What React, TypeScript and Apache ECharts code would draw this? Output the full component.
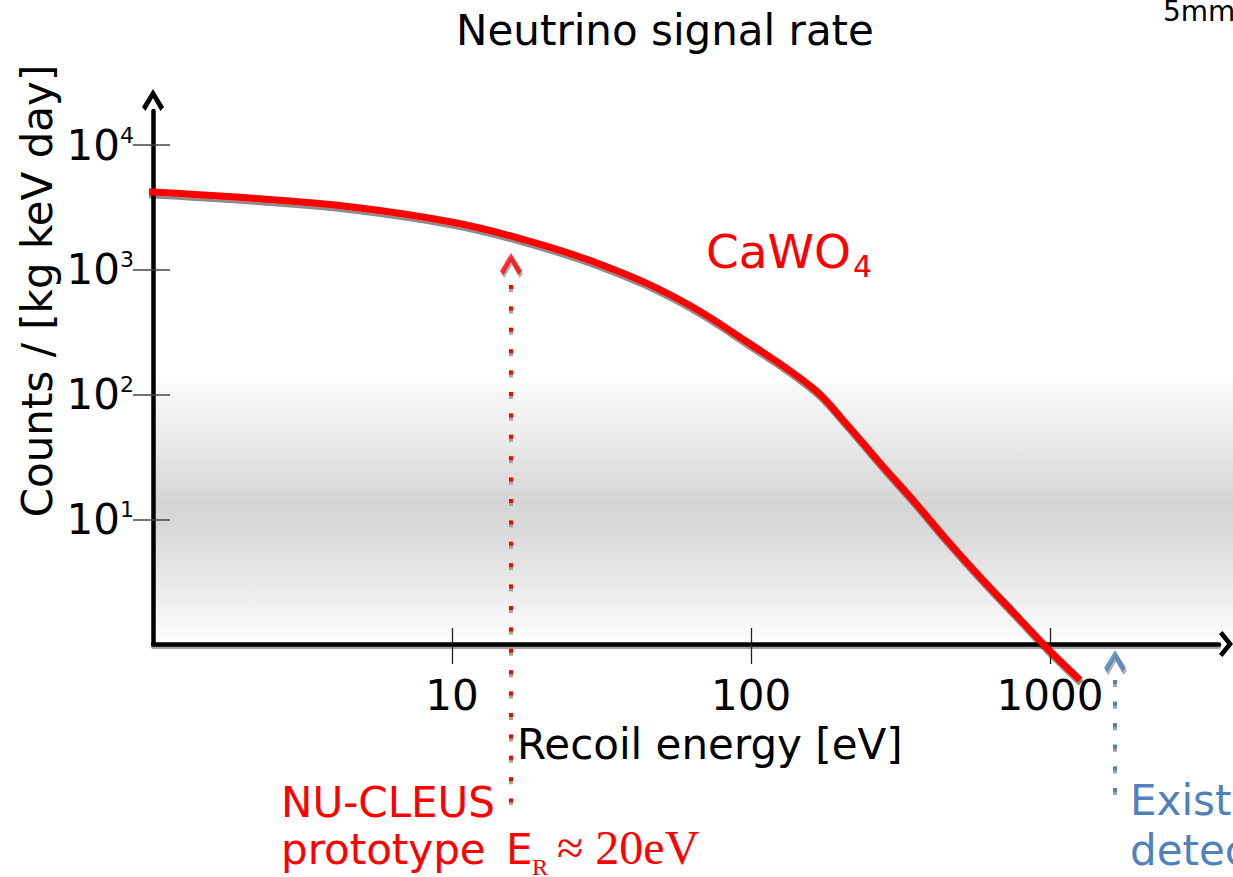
import React, { useEffect, useRef } from 'react';
import * as echarts from 'echarts';

// Neutrino signal rate for CaWO4 (counts / [kg keV day]) vs recoil energy [eV]
const energy = [0.955, 2.11, 4.56, 9.85, 16.9, 31.3, 57.9, 96.8, 161, 203, 270, 348, 452, 583, 752, 977, 1260];
const rate = [4230, 3766, 3206, 2431, 1783, 1111, 574, 265.6, 113, 62.6, 28.3, 14.3, 6.82, 3.45, 1.81, 0.929, 0.515];

const xTicks = [10, 100, 1000];
const yTicks = [10, 100, 1000, 10000];
const xRange = [1, 3674];
const yRange = [1, 18810];

// expected background range (counts)
const backgroundRange = [1, 124];

// thresholds: energy, [arrow tip, dotted top, dotted bottom]
const nucleusThreshold = 15.75;
const nucleusMarker = [1367, 757, 0.0512];
const existingThreshold = 1649;
const existingMarker = [0.895, 0.514, 0.0512];

const FONT = '"DejaVu Sans"';
const SERIF = '"Liberation Serif"';
const RED = '#ff0000';
const BLUE = '#4f81bd';
const SHADOW = '#a3a3a3';
const CHEVRON = 'path://M11,0 L22,18 L18.5,22 L11,9 L3.5,22 L0,18 Z';
const CHEVRON_X = 'path://M13,0 L26,10.5 L23,14 L13,6 L3,14 L0,10.5 Z';

function text(t: string, x: number, y: number, size: number, fill: string, extra: any = {}) {
  const { family, align, ...rest } = extra;
  return {
    type: 'text',
    x,
    y,
    silent: true,
    ...rest,
    style: {
      text: t,
      fill,
      font: `${size}px ${family || FONT}`,
      align: align || 'left',
      textAlign: align || 'left',
      verticalAlign: 'middle',
      textVerticalAlign: 'middle',
    },
  };
}

function dotted(name: string, x: number, top: number, bottom: number, color: string, period: number, z: number, dash: number) {
  return {
    name,
    type: 'line',
    data: [[x, top], [x, bottom]],
    showSymbol: false,
    clip: false,
    silent: true,
    z,
    lineStyle: { color, width: 4, type: [dash, period - dash] },
  };
}

export default function App() {
  const ref = useRef<HTMLDivElement>(null);
  useEffect(() => {
    const chart = echarts.init(ref.current!, null, { renderer: 'svg' });
    const option: any = {
      animation: false,
      textStyle: { fontFamily: FONT },
      grid: { left: 153, right: 14, top: 111, bottom: 233, show: false },
      xAxis: [
        {
          type: 'log',
          min: xRange[0],
          max: xRange[1],
          position: 'bottom',
          z: 2,
          axisLine: {
            show: true,
            onZero: false,
            symbol: ['none', CHEVRON_X],
            symbolSize: [26, 14],
            symbolOffset: [0, 7],
            lineStyle: { color: '#000', width: 4.5 },
          },
          axisTick: { show: true, inside: false, length: 20, customValues: xTicks, lineStyle: { color: '#222', width: 1.3 } },
          axisLabel: {
            customValues: xTicks,
            margin: 30,
            fontSize: 42,
            color: '#000',
            fontFamily: FONT,
            formatter: (v: number) => String(v),
          },
          splitLine: { show: false },
          minorTick: { show: false },
        },
        {
          // gray drop shadow of the axis line + inner half of the ticks
          type: 'log',
          min: xRange[0],
          max: xRange[1],
          position: 'bottom',
          offset: 3,
          z: 1,
          axisLine: { show: true, onZero: false, lineStyle: { color: SHADOW, width: 4 } },
          axisTick: { show: true, inside: true, length: 19, customValues: xTicks, lineStyle: { color: '#222', width: 1.3 } },
          axisLabel: { show: false },
          splitLine: { show: false },
        },
      ],
      yAxis: [
        {
          type: 'log',
          min: yRange[0],
          max: yRange[1],
          position: 'left',
          z: 2,
          axisLine: {
            show: true,
            onZero: false,
            symbol: ['none', CHEVRON],
            symbolSize: [22, 22],
            symbolOffset: [0, 11],
            lineStyle: { color: '#000', width: 4.5 },
          },
          axisTick: { show: true, inside: false, length: 20, customValues: yTicks, lineStyle: { color: '#444', width: 1.5 } },
          axisLabel: {
            customValues: yTicks,
            margin: 19,
            color: '#000',
            formatter: (v: number) => `{b|10}{s|${Math.round(Math.log10(v))}}`,
            rich: {
              b: { fontSize: 42, fontFamily: FONT, color: '#000' },
              s: { fontSize: 22, fontFamily: FONT, color: '#000', verticalAlign: 'top' },
            },
          },
          splitLine: { show: false },
        },
        {
          type: 'log',
          min: yRange[0],
          max: yRange[1],
          position: 'left',
          z: 2,
          axisLine: { show: false, onZero: false },
          axisTick: { show: true, inside: true, length: 17, customValues: yTicks, lineStyle: { color: '#444', width: 1.5 } },
          axisLabel: { show: false },
          splitLine: { show: false },
        },
      ],
      series: [
        {
          name: 'CaWO4',
          type: 'line',
          xAxisIndex: 0,
          yAxisIndex: 0,
          data: energy.map((e, i) => [e, rate[i]]),
          smooth: 0.4,
          showSymbol: false,
          clip: false,
          z: 5,
          lineStyle: { color: RED, width: 7, shadowColor: 'rgba(0,0,0,0.45)', shadowOffsetX: 1, shadowOffsetY: 3, shadowBlur: 0 },
          markArea: {
            silent: true,
            z: 1,
            label: { show: false },
            itemStyle: {
              color: new echarts.graphic.LinearGradient(0, 0, 0, 1, [
                { offset: 0, color: '#f9f9f9' },
                { offset: 0.2, color: '#ececec' },
                { offset: 0.46, color: '#d5d5d5' },
                { offset: 0.56, color: '#d9d9d9' },
                { offset: 0.76, color: '#e9e9e9' },
                { offset: 0.92, color: '#f7f7f7' },
                { offset: 1, color: '#ffffff' },
              ]),
            },
            data: [[{ yAxis: backgroundRange[0] }, { yAxis: backgroundRange[1], x: '100%' }]],
          },
        },
        dotted('NU-CLEUS threshold shadow', nucleusThreshold, nucleusMarker[1], nucleusMarker[2], SHADOW, 21.4, 3, 7),
        dotted('NU-CLEUS threshold', nucleusThreshold, nucleusMarker[1], nucleusMarker[2], RED, 21.4, 4, 4),
        dotted('Existing threshold shadow', existingThreshold, existingMarker[1], existingMarker[2], SHADOW, 21.6, 3, 7),
        dotted('Existing threshold', existingThreshold, existingMarker[1], existingMarker[2], BLUE, 21.6, 4, 4),
        {
          name: 'arrow shadows',
          type: 'scatter',
          clip: false,
          silent: true,
          symbol: CHEVRON,
          symbolSize: [22, 22],
          symbolOffset: [1, 14],
          z: 5,
          itemStyle: { color: SHADOW },
          data: [
            [nucleusThreshold, nucleusMarker[0]],
            [existingThreshold, existingMarker[0]],
          ],
        },
        {
          name: 'arrows',
          type: 'scatter',
          clip: false,
          silent: true,
          symbol: CHEVRON,
          symbolSize: [22, 22],
          symbolOffset: [0, 11],
          z: 6,
          data: [
            { value: [nucleusThreshold, nucleusMarker[0]], itemStyle: { color: RED } },
            { value: [existingThreshold, existingMarker[0]], itemStyle: { color: BLUE } },
          ],
        },
      ],
      graphic: [
        text('Neutrino signal rate', 665, 30, 42, '#000', { align: 'center' }),
        text('5mm', 1163, 11, 28, '#000'),
        text('Counts / [kg keV day]', 37, 291, 42, '#000', { align: 'center', rotation: Math.PI / 2 }),
        text('Recoil energy [eV]', 517, 744, 42, '#000'),
        text('CaWO', 706, 251, 47, RED),
        text('4', 853, 266, 30, RED),
        text('expected', 230, 477, 42, '#595959'),
        text('background', 230, 527, 42, '#595959'),
        text('range', 230, 577, 42, '#595959'),
        text('NU-CLEUS', 281, 802, 42, RED),
        text('prototype', 281, 849, 42, RED),
        text('E', 506, 849, 42, RED),
        text('R', 532, 867, 24, RED, { family: SERIF }),
        text('≈ 20eV', 557, 847, 48, RED, { family: SERIF }),
        text('Existing', 1130, 800, 42, BLUE),
        text('detectors', 1130, 850, 42, BLUE),
      ],
    };
    chart.setOption(option);
    return () => chart.dispose();
  }, []);
  return <div ref={ref} style={{ position: 'absolute', left: 0, top: 0, width: 1233, height: 877 }} />;
}
